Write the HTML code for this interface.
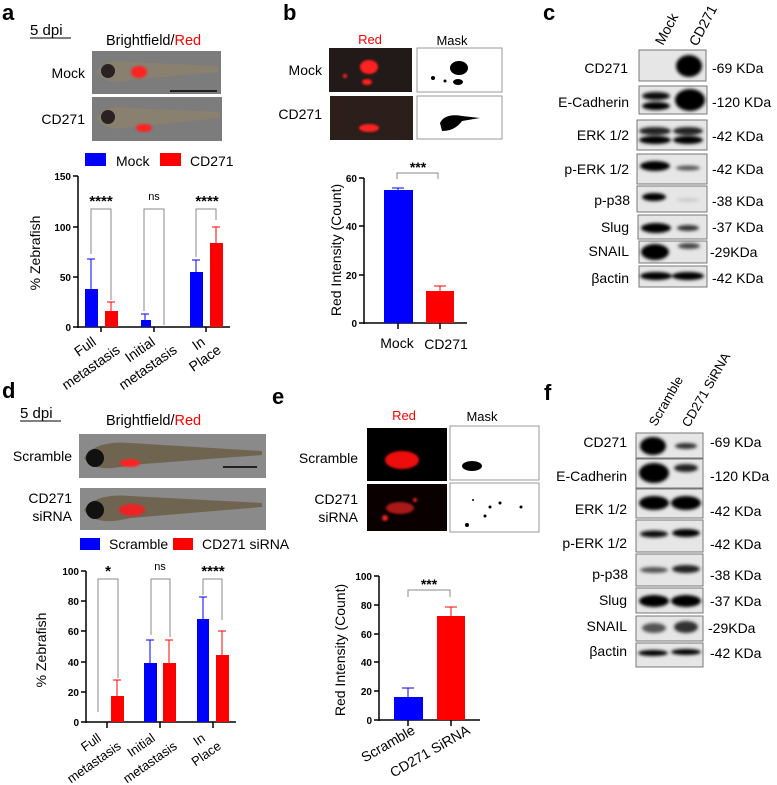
<!DOCTYPE html>
<html><head><meta charset="utf-8"><style>
body{margin:0;background:#fff}
svg{display:block}
text{font-family:"Liberation Sans",sans-serif}
.l{font-size:14px}
.t{font-size:10px;font-weight:bold}
.k{font-size:14px}
.p{font-size:22px;font-weight:bold}
</style></head><body>
<svg width="777" height="785" viewBox="0 0 777 785" xmlns="http://www.w3.org/2000/svg">
<defs>
<filter id="b1" x="-50%" y="-100%" width="200%" height="300%"><feGaussianBlur stdDeviation="1.6"/></filter>
<filter id="b2"><feGaussianBlur stdDeviation="1"/></filter>
</defs>
<!-- ============ Panel a ============ -->
<text class="p" x="2" y="20">a</text>
<text x="30" y="35" font-size="15">5 dpi</text>
<line x1="30" y1="38" x2="71" y2="38" stroke="#000" stroke-width="1"/>
<text x="106" y="45" font-size="14.5">Brightfield/<tspan fill="#f00">Red</tspan></text>
<text class="l" x="85" y="78" text-anchor="end">Mock</text>
<text class="l" x="85" y="124" text-anchor="end">CD271</text>
<rect x="92" y="51" width="129" height="43" fill="#7c7c7c"/>
<path d="M97 72 Q105 58 130 62 L218 66 L218 72 L130 80 Q105 86 97 72Z" fill="#8a8070"/>
<circle cx="108" cy="71" r="7" fill="#2a2222"/>
<ellipse cx="139" cy="72" rx="8" ry="6" fill="#f22" filter="url(#b2)"/>
<line x1="170" y1="91" x2="217" y2="91" stroke="#000" stroke-width="1.5"/>
<rect x="92" y="97" width="130" height="44" fill="#7c7c7c"/>
<path d="M97 118 Q105 104 130 108 L220 112 L220 118 L130 127 Q105 132 97 118Z" fill="#8a8070"/>
<circle cx="108" cy="117" r="7" fill="#2a2222"/>
<ellipse cx="144" cy="128" rx="8" ry="4" fill="#f22" filter="url(#b2)"/>
<rect x="85" y="153" width="21" height="13" fill="#00f"/>
<text class="l" x="116" y="166">Mock</text>
<rect x="160" y="153" width="21" height="13" fill="#f00"/>
<text class="l" x="190" y="166">CD271</text>
<!-- chart a: y axis 0@327, 150@176 -->
<g stroke="#000" stroke-width="1.5" fill="none">
<line x1="78" y1="176" x2="78" y2="328"/>
<line x1="78" y1="327" x2="230" y2="327"/>
<line x1="73" y1="176" x2="78" y2="176"/><line x1="73" y1="227" x2="78" y2="227"/><line x1="73" y1="277" x2="78" y2="277"/><line x1="73" y1="327" x2="78" y2="327"/>
<line x1="101" y1="327" x2="101" y2="332"/><line x1="154" y1="327" x2="154" y2="332"/><line x1="206" y1="327" x2="206" y2="332"/>
</g>
<g class="t" text-anchor="end"><text x="71" y="180">150</text><text x="71" y="231">100</text><text x="71" y="281">50</text><text x="71" y="331">0</text></g>
<text class="l" transform="translate(40,253) rotate(-90)" text-anchor="middle">% Zebrafish</text>
<rect x="85" y="289" width="13" height="38" fill="#00f"/>
<rect x="105" y="311" width="13" height="16" fill="#f00"/>
<rect x="141" y="320" width="10" height="7" fill="#00f"/>
<rect x="190" y="272" width="13" height="55" fill="#00f"/>
<rect x="210" y="243" width="13" height="84" fill="#f00"/>
<g stroke="#00f" stroke-width="1"><line x1="91" y1="289" x2="91" y2="259"/><line x1="87" y1="259" x2="95" y2="259"/>
<line x1="145" y1="320" x2="145" y2="314"/><line x1="141" y1="314" x2="149" y2="314"/>
<line x1="196" y1="272" x2="196" y2="260"/><line x1="192" y1="260" x2="200" y2="260"/></g>
<g stroke="#f00" stroke-width="1"><line x1="111" y1="311" x2="111" y2="302"/><line x1="107" y1="302" x2="115" y2="302"/>
<line x1="216" y1="243" x2="216" y2="227"/><line x1="212" y1="227" x2="220" y2="227"/></g>
<g stroke="#888" stroke-width="1" fill="none">
<polyline points="91,254 91,209 111,209 111,300"/>
<polyline points="144,311 144,209 164,209 164,325"/>
<polyline points="196,257 196,209 216,209 216,220"/>
</g>
<g font-size="15" font-weight="bold" text-anchor="middle"><text x="101" y="206">****</text><text x="207" y="206">****</text></g>
<text x="154" y="200" font-size="11" text-anchor="middle">ns</text>
<g class="l" font-size="13" text-anchor="end">
<text transform="translate(97,344) rotate(-35)">Full</text>
<text transform="translate(121,352) rotate(-35)">metastasis</text>
<text transform="translate(156,344) rotate(-35)">Initial</text>
<text transform="translate(178,352) rotate(-35)">metastasis</text>
<text transform="translate(206,344) rotate(-35)">In</text>
<text transform="translate(222,352) rotate(-35)">Place</text>
</g>
<!-- ============ Panel b ============ -->
<text class="p" x="283" y="20">b</text>
<text x="370" y="44" font-size="13" fill="#f00" text-anchor="middle">Red</text>
<text x="452" y="45" font-size="13" text-anchor="middle">Mask</text>
<text class="l" x="322" y="75" text-anchor="end">Mock</text>
<text class="l" x="322" y="119" text-anchor="end">CD271</text>
<rect x="329" y="48" width="83" height="44" fill="#221a18"/>
<g fill="#f22" filter="url(#b2)"><ellipse cx="369" cy="67" rx="9" ry="7"/><ellipse cx="367" cy="82" rx="5" ry="3"/><circle cx="345" cy="76" r="2"/></g>
<rect x="330" y="96" width="83" height="44" fill="#2c1e1a"/>
<ellipse cx="369" cy="128" rx="10" ry="4" fill="#f22" filter="url(#b2)"/>
<rect x="417" y="48" width="85" height="44" fill="#fff" stroke="#999"/>
<g fill="#000"><ellipse cx="459" cy="68" rx="9" ry="7"/><ellipse cx="458" cy="82" rx="5" ry="3"/><circle cx="433" cy="78" r="2"/><circle cx="445" cy="81" r="1.5"/></g>
<rect x="417" y="96" width="85" height="43" fill="#fff" stroke="#999"/>
<path d="M440 123 Q445 113 462 116 L480 118 L462 121 Q455 131 442 131Z" fill="#000"/>
<g stroke="#000" stroke-width="1.5"><line x1="364" y1="178" x2="364" y2="324"/><line x1="364" y1="323" x2="467" y2="323"/>
<line x1="359" y1="178" x2="364" y2="178"/><line x1="359" y1="226" x2="364" y2="226"/><line x1="359" y1="275" x2="364" y2="275"/><line x1="359" y1="323" x2="364" y2="323"/>
<line x1="398" y1="323" x2="398" y2="329"/><line x1="440" y1="323" x2="440" y2="329"/></g>
<g class="t" text-anchor="end"><text x="357" y="182">60</text><text x="357" y="230">40</text><text x="357" y="279">20</text><text x="357" y="327">0</text></g>
<text class="l" transform="translate(341,250) rotate(-90)" text-anchor="middle">Red Intensity (Count)</text>
<rect x="384" y="190" width="29" height="133" fill="#00f"/>
<rect x="426" y="291" width="28" height="32" fill="#f00"/>
<g stroke="#00f"><line x1="398" y1="190" x2="398" y2="188"/><line x1="392" y1="188" x2="404" y2="188"/></g>
<g stroke="#f00"><line x1="440" y1="291" x2="440" y2="286"/><line x1="434" y1="286" x2="446" y2="286"/></g>
<polyline points="397,179 397,173 438,173 438,179" fill="none" stroke="#888"/>
<text x="418" y="172" font-size="14" font-weight="bold" text-anchor="middle">***</text>
<text class="l" x="397" y="348" text-anchor="middle">Mock</text>
<text class="l" x="446" y="349" text-anchor="middle">CD271</text>
<!-- ============ Panel c ============ -->
<text class="p" x="543" y="20">c</text>
<text class="l" font-size="13" transform="translate(663,46) rotate(-62)">Mock</text>
<text class="l" font-size="13" transform="translate(697,47) rotate(-62)">CD271</text>
<g fill="#e6e6e6" stroke="#777" stroke-width="1">
<rect x="639" y="50" width="67" height="31"/><rect x="639" y="86" width="68" height="28"/><rect x="637" y="120" width="70" height="30"/><rect x="637" y="154" width="70" height="30"/><rect x="637" y="186" width="70" height="26"/><rect x="638" y="215" width="69" height="24"/><rect x="639" y="241" width="68" height="22"/><rect x="639" y="266" width="68" height="21"/>
</g>
<g fill="#000" filter="url(#b1)">
<ellipse cx="689" cy="66" rx="13" ry="11"/>
<ellipse cx="656" cy="96" rx="14" ry="4" fill="#111"/><ellipse cx="656" cy="106" rx="14" ry="4"/><ellipse cx="690" cy="100" rx="15" ry="11"/>
<ellipse cx="655" cy="131" rx="16" ry="4" fill="#222"/><ellipse cx="655" cy="140" rx="16" ry="4"/><ellipse cx="688" cy="131" rx="15" ry="4" fill="#222"/><ellipse cx="688" cy="140" rx="15" ry="4"/>
<ellipse cx="655" cy="166" rx="15" ry="5"/><ellipse cx="688" cy="168" rx="12" ry="2.5" fill="#555"/>
<ellipse cx="654" cy="197" rx="12" ry="4"/><ellipse cx="688" cy="200" rx="12" ry="2" fill="#ccc"/>
<ellipse cx="656" cy="228" rx="15" ry="5"/><ellipse cx="688" cy="228" rx="11" ry="3" fill="#333"/>
<ellipse cx="655" cy="252" rx="14" ry="8"/><ellipse cx="689" cy="246" rx="11" ry="3" fill="#444"/>
<ellipse cx="656" cy="276" rx="16" ry="4"/><ellipse cx="688" cy="276" rx="16" ry="4"/>
</g>
<g class="k" text-anchor="end">
<text x="628" y="73">CD271</text><text x="629" y="107">E-Cadherin</text><text x="629" y="140">ERK 1/2</text><text x="629" y="174">p-ERK 1/2</text><text x="630" y="205">p-p38</text><text x="629" y="232">Slug</text><text x="629" y="256">SNAIL</text><text x="629" y="283">βactin</text>
</g>
<g class="k">
<text x="712" y="73">-69 KDa</text><text x="712" y="107">-120 KDa</text><text x="712" y="141">-42 KDa</text><text x="712" y="174">-42 KDa</text><text x="712" y="206">-38 KDa</text><text x="712" y="232">-37 KDa</text><text x="710" y="257">-29KDa</text><text x="712" y="283">-42 KDa</text>
</g>
<!-- ============ Panel d ============ -->
<text class="p" x="2" y="398">d</text>
<text x="20" y="418" font-size="15">5 dpi</text>
<line x1="20" y1="421" x2="61" y2="421" stroke="#000"/>
<text x="106" y="425" font-size="14.5">Brightfield/<tspan fill="#f00">Red</tspan></text>
<text class="l" x="72" y="461" text-anchor="end">Scramble</text>
<text class="l" x="72" y="503" text-anchor="end">CD271</text>
<text class="l" x="72" y="521" text-anchor="end">siRNA</text>
<rect x="79" y="434" width="187" height="44" fill="#8a8a8a"/>
<path d="M84 458 Q95 440 130 443 L262 451 L262 455 L130 465 Q95 474 84 458Z" fill="#6e6450"/>
<circle cx="95" cy="458" r="9" fill="#111"/>
<ellipse cx="130" cy="463" rx="10" ry="4" fill="#f22" filter="url(#b2)"/>
<line x1="223" y1="467" x2="257" y2="467" stroke="#000" stroke-width="1.5"/>
<rect x="80" y="488" width="186" height="42" fill="#8a8a8a"/>
<path d="M84 510 Q95 493 130 496 L262 503 L262 507 L130 518 Q95 527 84 510Z" fill="#6e6450"/>
<circle cx="95" cy="510" r="9" fill="#111"/>
<ellipse cx="132" cy="510" rx="13" ry="6" fill="#e22" filter="url(#b2)"/>
<rect x="80" y="538" width="20" height="12" fill="#00f"/>
<text class="l" x="109" y="549">Scramble</text>
<rect x="173" y="538" width="20" height="12" fill="#f00"/>
<text class="l" x="202" y="549">CD271 siRNA</text>
<!-- chart d: 0@722, 100@571 -->
<g stroke="#000" stroke-width="1.5">
<line x1="86" y1="571" x2="86" y2="723"/><line x1="86" y1="722" x2="236" y2="722"/>
<line x1="81" y1="571" x2="86" y2="571"/><line x1="81" y1="601" x2="86" y2="601"/><line x1="81" y1="631" x2="86" y2="631"/><line x1="81" y1="662" x2="86" y2="662"/><line x1="81" y1="692" x2="86" y2="692"/><line x1="81" y1="722" x2="86" y2="722"/>
<line x1="107" y1="722" x2="107" y2="728"/><line x1="160" y1="722" x2="160" y2="728"/><line x1="213" y1="722" x2="213" y2="728"/>
</g>
<g class="t" text-anchor="end"><text x="79" y="575">100</text><text x="79" y="605">80</text><text x="79" y="635">60</text><text x="79" y="666">40</text><text x="79" y="696">20</text><text x="79" y="726">0</text></g>
<text class="l" transform="translate(46,650) rotate(-90)" text-anchor="middle">% Zebrafish</text>
<rect x="111" y="696" width="13" height="26" fill="#f00"/>
<rect x="144" y="663" width="13" height="59" fill="#00f"/>
<rect x="163" y="663" width="13" height="59" fill="#f00"/>
<rect x="197" y="619" width="12" height="103" fill="#00f"/>
<rect x="216" y="655" width="13" height="67" fill="#f00"/>
<g stroke="#f00"><line x1="117" y1="696" x2="117" y2="680"/><line x1="113" y1="680" x2="121" y2="680"/>
<line x1="169" y1="663" x2="169" y2="640"/><line x1="165" y1="640" x2="173" y2="640"/>
<line x1="222" y1="655" x2="222" y2="631"/><line x1="218" y1="631" x2="226" y2="631"/></g>
<g stroke="#00f"><line x1="150" y1="663" x2="150" y2="640"/><line x1="146" y1="640" x2="154" y2="640"/>
<line x1="203" y1="619" x2="203" y2="597"/><line x1="199" y1="597" x2="207" y2="597"/></g>
<g stroke="#888" fill="none">
<polyline points="98,712 98,579 118,579 118,678"/>
<polyline points="151,635 151,579 170,579 170,637"/>
<polyline points="203,595 203,579 222,579 222,620"/>
</g>
<text x="108" y="576" font-size="15" font-weight="bold" text-anchor="middle">*</text>
<text x="160" y="570" font-size="11" text-anchor="middle">ns</text>
<text x="213" y="576" font-size="15" font-weight="bold" text-anchor="middle">****</text>
<g font-size="13" text-anchor="end">
<text transform="translate(102,740) rotate(-35)">Full</text>
<text transform="translate(122,748) rotate(-35)">metastasis</text>
<text transform="translate(156,740) rotate(-35)">Initial</text>
<text transform="translate(178,748) rotate(-35)">metastasis</text>
<text transform="translate(206,740) rotate(-35)">In</text>
<text transform="translate(222,748) rotate(-35)">Place</text>
</g>
<!-- ============ Panel e ============ -->
<text class="p" x="272" y="404">e</text>
<text x="404" y="420" font-size="13" fill="#f00" text-anchor="middle">Red</text>
<text x="482" y="421" font-size="13" text-anchor="middle">Mask</text>
<text class="l" x="358" y="463" text-anchor="end">Scramble</text>
<text class="l" x="358" y="504" text-anchor="end">CD271</text>
<text class="l" x="358" y="522" text-anchor="end">siRNA</text>
<rect x="367" y="428" width="80" height="53" fill="#000"/>
<ellipse cx="402" cy="460" rx="17" ry="9" fill="#e11" filter="url(#b2)"/>
<rect x="367" y="484" width="80" height="47" fill="#0a0000"/>
<g fill="#e22" filter="url(#b2)"><ellipse cx="400" cy="508" rx="14" ry="6" opacity=".7"/><circle cx="385" cy="518" r="3"/><circle cx="415" cy="500" r="2"/></g>
<rect x="450" y="426" width="89" height="54" fill="#fff" stroke="#999"/>
<ellipse cx="472" cy="466" rx="10" ry="5" fill="#000"/>
<rect x="450" y="483" width="89" height="49" fill="#fff" stroke="#999"/>
<g fill="#000"><circle cx="467" cy="525" r="2"/><circle cx="490" cy="507" r="1.5"/><circle cx="500" cy="503" r="1.5"/><circle cx="521" cy="507" r="1.5"/><circle cx="473" cy="500" r="1"/><circle cx="485" cy="516" r="1.5"/></g>
<g stroke="#000" stroke-width="1.5">
<line x1="379" y1="576" x2="379" y2="721"/><line x1="379" y1="720" x2="480" y2="720"/>
<line x1="374" y1="576" x2="379" y2="576"/><line x1="374" y1="605" x2="379" y2="605"/><line x1="374" y1="634" x2="379" y2="634"/><line x1="374" y1="662" x2="379" y2="662"/><line x1="374" y1="691" x2="379" y2="691"/><line x1="374" y1="720" x2="379" y2="720"/>
<line x1="408" y1="720" x2="408" y2="726"/><line x1="451" y1="720" x2="451" y2="726"/>
</g>
<g class="t" text-anchor="end"><text x="372" y="580">100</text><text x="372" y="609">80</text><text x="372" y="638">60</text><text x="372" y="666">40</text><text x="372" y="695">20</text><text x="372" y="724">0</text></g>
<text class="l" transform="translate(345,650) rotate(-90)" text-anchor="middle">Red Intensity (Count)</text>
<rect x="394" y="697" width="29" height="23" fill="#00f"/>
<rect x="437" y="616" width="28" height="104" fill="#f00"/>
<g stroke="#00f"><line x1="408" y1="697" x2="408" y2="688"/><line x1="402" y1="688" x2="414" y2="688"/></g>
<g stroke="#f00"><line x1="451" y1="616" x2="451" y2="607"/><line x1="445" y1="607" x2="457" y2="607"/></g>
<polyline points="408,597 408,590 450,590 450,597" fill="none" stroke="#888"/>
<text x="429" y="589" font-size="14" font-weight="bold" text-anchor="middle">***</text>
<g class="l" text-anchor="end">
<text transform="translate(416,733) rotate(-30)">Scramble</text>
<text transform="translate(471,733) rotate(-30)">CD271 SiRNA</text>
</g>
<!-- ============ Panel f ============ -->
<text class="p" x="544" y="400">f</text>
<text font-size="13" transform="translate(656,427) rotate(-60)">Scramble</text>
<text font-size="13" transform="translate(689,428) rotate(-60)">CD271 SiRNA</text>
<g fill="#e6e6e6" stroke="#777">
<rect x="636" y="433" width="67" height="25"/><rect x="636" y="459" width="67" height="29"/><rect x="636" y="489" width="67" height="29"/><rect x="636" y="520" width="67" height="32"/><rect x="636" y="554" width="67" height="32"/><rect x="636" y="588" width="67" height="25"/><rect x="636" y="616" width="67" height="25"/><rect x="636" y="643" width="67" height="24"/>
</g>
<g fill="#000" filter="url(#b1)">
<ellipse cx="653" cy="446" rx="13" ry="9"/><ellipse cx="686" cy="446" rx="11" ry="3" fill="#333"/>
<ellipse cx="654" cy="473" rx="15" ry="10"/><ellipse cx="686" cy="468" rx="12" ry="4" fill="#222"/>
<ellipse cx="654" cy="503" rx="15" ry="7"/><ellipse cx="686" cy="503" rx="15" ry="7"/>
<ellipse cx="654" cy="534" rx="14" ry="3.5" fill="#111"/><ellipse cx="686" cy="533" rx="14" ry="4"/>
<ellipse cx="654" cy="570" rx="14" ry="3" fill="#555"/><ellipse cx="686" cy="569" rx="14" ry="4" fill="#222"/>
<ellipse cx="654" cy="601" rx="15" ry="6"/><ellipse cx="686" cy="601" rx="15" ry="6"/>
<ellipse cx="654" cy="628" rx="12" ry="5" fill="#555"/><ellipse cx="686" cy="627" rx="12" ry="6" fill="#333"/>
<ellipse cx="653" cy="653" rx="15" ry="3"/><ellipse cx="686" cy="652" rx="15" ry="3"/>
</g>
<g class="k" text-anchor="end">
<text x="627" y="447">CD271</text><text x="627" y="481">E-Cadherin</text><text x="627" y="514">ERK 1/2</text><text x="627" y="548">p-ERK 1/2</text><text x="628" y="579">p-p38</text><text x="627" y="605">Slug</text><text x="627" y="631">SNAIL</text><text x="627" y="656">βactin</text>
</g>
<g class="k">
<text x="710" y="447">-69 KDa</text><text x="710" y="481">-120 KDa</text><text x="710" y="516">-42 KDa</text><text x="710" y="549">-42 KDa</text><text x="710" y="580">-38 KDa</text><text x="710" y="606">-37 KDa</text><text x="708" y="633">-29KDa</text><text x="710" y="658">-42 KDa</text>
</g>
</svg>
</body></html>
